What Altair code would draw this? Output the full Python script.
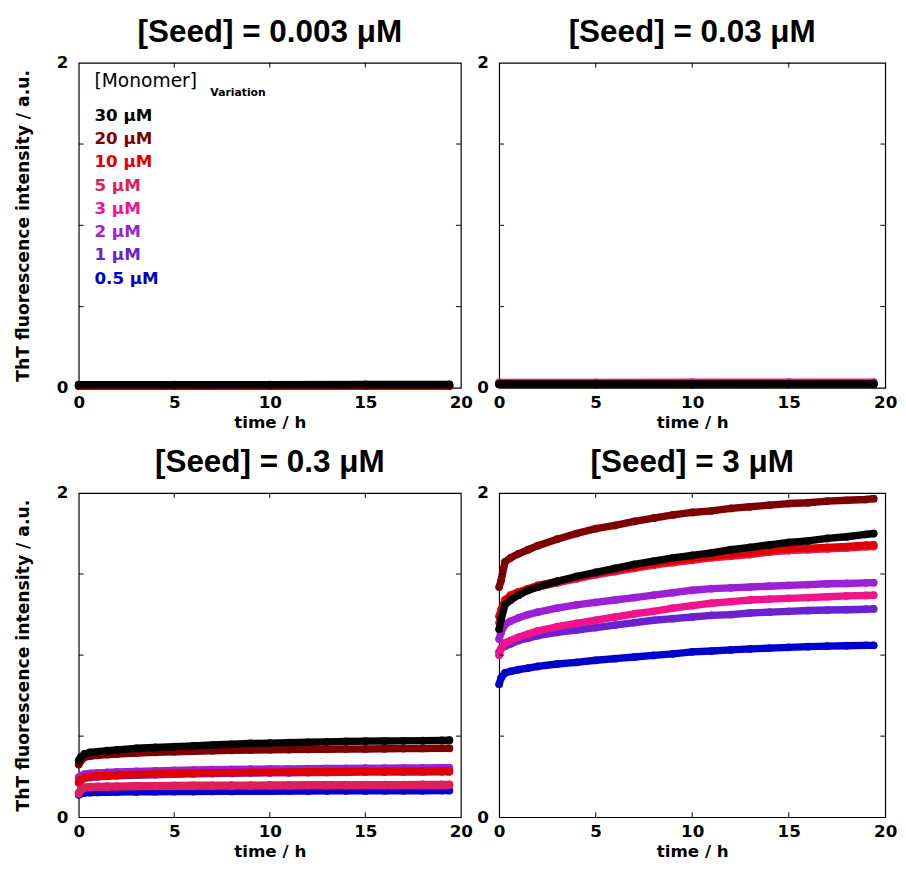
import altair as alt
import pandas as pd

# ---------------- data ----------------
MONOMERS = ["0.5", "1", "2", "3", "5", "10", "20", "30"]          # draw order
COLORS = {"30": "#000000", "20": "#7d0000", "10": "#e00000", "5": "#de1f5a",
          "3": "#f0148c", "2": "#9d1fd6", "1": "#6a22d0", "0.5": "#0000cc"}
LEGEND_ORDER = ["30", "20", "10", "5", "3", "2", "1", "0.5"]

T = [0, 0.1, 0.3, 0.6, 1, 1.5, 2, 3, 4, 5, 6, 7, 8, 9, 10, 11, 12, 13, 14,
     15, 16, 17, 18, 19, 19.4]
T_FLAT = [0, 5, 10, 15, 19.4]

# [Seed] = 0.003 uM  (all flat near zero)
S0003 = {
    "0.5": [0.015, 0.015, 0.015, 0.015, 0.015],
    "1":   [0.015, 0.015, 0.016, 0.016, 0.016],
    "2":   [0.016, 0.016, 0.016, 0.016, 0.016],
    "3":   [0.016, 0.016, 0.016, 0.017, 0.017],
    "5":   [0.015, 0.015, 0.016, 0.016, 0.016],
    "10":  [0.013, 0.013, 0.013, 0.014, 0.014],
    "20":  [0.012, 0.012, 0.012, 0.012, 0.012],
    "30":  [0.020, 0.020, 0.020, 0.021, 0.021],
}
# [Seed] = 0.03 uM  (all flat near zero)
S003 = {
    "0.5": [0.022, 0.022, 0.022, 0.022, 0.022],
    "1":   [0.024, 0.024, 0.024, 0.024, 0.024],
    "2":   [0.026, 0.026, 0.026, 0.026, 0.026],
    "3":   [0.034, 0.034, 0.035, 0.035, 0.035],
    "5":   [0.028, 0.028, 0.028, 0.028, 0.028],
    "10":  [0.024, 0.024, 0.024, 0.024, 0.024],
    "20":  [0.022, 0.022, 0.022, 0.022, 0.022],
    "30":  [0.024, 0.024, 0.024, 0.025, 0.025],
}
# [Seed] = 0.3 uM
S03 = {
    "0.5": [0.138, 0.145, 0.150, 0.152, 0.153, 0.154, 0.155, 0.156, 0.157, 0.158, 0.158, 0.159, 0.159,
            0.160, 0.160, 0.161, 0.161, 0.162, 0.162, 0.162, 0.163, 0.163, 0.163, 0.164, 0.164],
    "1":   [0.212, 0.226, 0.240, 0.245, 0.249, 0.252, 0.255, 0.259, 0.262, 0.265, 0.267, 0.269, 0.270,
            0.272, 0.273, 0.274, 0.275, 0.276, 0.277, 0.278, 0.278, 0.279, 0.279, 0.280, 0.280],
    "2":   [0.245, 0.255, 0.265, 0.270, 0.273, 0.276, 0.279, 0.283, 0.286, 0.289, 0.291, 0.293, 0.295,
            0.296, 0.297, 0.298, 0.299, 0.300, 0.301, 0.302, 0.303, 0.304, 0.304, 0.305, 0.305],
    "3":   [0.145, 0.165, 0.180, 0.183, 0.185, 0.186, 0.187, 0.189, 0.190, 0.191, 0.192, 0.192, 0.193,
            0.193, 0.194, 0.194, 0.195, 0.195, 0.195, 0.196, 0.196, 0.196, 0.197, 0.197, 0.197],
    "5":   [0.150, 0.170, 0.185, 0.188, 0.190, 0.191, 0.192, 0.194, 0.195, 0.196, 0.197, 0.197, 0.198,
            0.198, 0.199, 0.199, 0.200, 0.200, 0.200, 0.201, 0.201, 0.201, 0.202, 0.202, 0.202],
    "10":  [0.218, 0.232, 0.245, 0.250, 0.254, 0.257, 0.260, 0.264, 0.267, 0.270, 0.272, 0.274, 0.275,
            0.277, 0.278, 0.279, 0.280, 0.281, 0.282, 0.283, 0.283, 0.284, 0.284, 0.285, 0.285],
    "20":  [0.325, 0.345, 0.370, 0.377, 0.382, 0.386, 0.390, 0.395, 0.400, 0.404, 0.407, 0.410, 0.412,
            0.414, 0.416, 0.417, 0.418, 0.419, 0.420, 0.421, 0.422, 0.423, 0.424, 0.425, 0.425],
    "30":  [0.350, 0.370, 0.390, 0.400, 0.405, 0.410, 0.415, 0.425, 0.430, 0.435, 0.440, 0.445, 0.450,
            0.455, 0.457, 0.460, 0.462, 0.465, 0.467, 0.469, 0.470, 0.471, 0.472, 0.474, 0.475],
}
# [Seed] = 3 uM
S3 = {
    "0.5": [0.82, 0.86, 0.89, 0.90, 0.91, 0.92, 0.93, 0.945, 0.955, 0.968, 0.978, 0.988, 0.998,
            1.008, 1.02, 1.025, 1.032, 1.038, 1.043, 1.048, 1.052, 1.055, 1.058, 1.06, 1.06],
    "1":   [1.02, 1.04, 1.055, 1.07, 1.09, 1.105, 1.12, 1.14, 1.155, 1.17, 1.185, 1.20, 1.215,
            1.225, 1.235, 1.245, 1.25, 1.26, 1.265, 1.27, 1.275, 1.278, 1.28, 1.283, 1.285],
    "2":   [1.10, 1.14, 1.19, 1.21, 1.23, 1.25, 1.265, 1.29, 1.31, 1.325, 1.34, 1.355, 1.37,
            1.385, 1.40, 1.41, 1.415, 1.42, 1.425, 1.43, 1.435, 1.44, 1.442, 1.446, 1.447],
    "3":   [1.00, 1.04, 1.075, 1.09, 1.11, 1.13, 1.15, 1.175, 1.195, 1.215, 1.235, 1.255, 1.27,
            1.29, 1.305, 1.32, 1.33, 1.34, 1.345, 1.35, 1.355, 1.36, 1.365, 1.368, 1.37],
    "5":   [1.20, 1.26, 1.33, 1.36, 1.38, 1.40, 1.42, 1.445, 1.47, 1.495, 1.515, 1.535, 1.555,
            1.57, 1.585, 1.60, 1.61, 1.62, 1.635, 1.645, 1.65, 1.655, 1.66, 1.668, 1.67],
    "10":  [1.24, 1.28, 1.34, 1.37, 1.39, 1.41, 1.43, 1.455, 1.48, 1.505, 1.525, 1.545, 1.565,
            1.58, 1.595, 1.61, 1.62, 1.63, 1.645, 1.655, 1.66, 1.665, 1.67, 1.678, 1.68],
    "20":  [1.42, 1.46, 1.575, 1.60, 1.625, 1.65, 1.675, 1.715, 1.75, 1.78, 1.80, 1.825, 1.845,
            1.865, 1.88, 1.89, 1.905, 1.915, 1.925, 1.935, 1.94, 1.95, 1.955, 1.96, 1.965],
    "30":  [1.16, 1.22, 1.31, 1.34, 1.37, 1.40, 1.42, 1.455, 1.485, 1.51, 1.535, 1.56, 1.58,
            1.60, 1.615, 1.63, 1.65, 1.665, 1.68, 1.695, 1.705, 1.72, 1.73, 1.745, 1.75],
}

X_TICKS = [0, 5, 10, 15, 20]
X_INNER_TICKS = [5, 10, 15]
Y_LABEL_TICKS = [0, 1, 2]
Y_INNER_TICKS = [0.5, 1, 1.5]

TITLES = ["[Seed] = 0.003 μM", "[Seed] = 0.03 μM", "[Seed] = 0.3 μM", "[Seed] = 3 μM"]
LEGEND_HEAD = "[Monomer]"
LEGEND_SUB = "Variation"

# ---------------- styling ----------------
FONT = "DejaVu Sans"
TITLE_FONT = "Liberation Sans"
WL, WR = 389, 393
HT, HB = 331, 330
TICK = 5


def panel(series, times, title, width, height, left, legend=False):
    x = alt.X("t:Q", scale=alt.Scale(domain=[0, 20], nice=False, zero=False),
              axis=alt.Axis(values=X_TICKS, title="time / h", ticks=False, domain=False,
                            grid=False, labelFont=FONT, labelFontSize=17, labelFontWeight="bold",
                            labelColor="black", labelPadding=7, titleFont=FONT,
                            titleFontSize=17, titleFontWeight="bold", titleColor="black",
                            titlePadding=4, labelFlush=False, labelOverlap=False, format="d"))
    yaxis = dict(values=Y_LABEL_TICKS, ticks=False, domain=False, grid=False,
                 labelFont=FONT, labelFontSize=17, labelFontWeight="bold", format="d",
                 labelColor="black", labelPadding=11, labelFlush=False, labelOverlap=False)
    if left:
        yaxis.update(title="ThT fluorescence intensity / a.u.", titleFont=FONT,
                     titleFontSize=17.5, titleFontWeight="bold", titleColor="black",
                     titlePadding=24)
    else:
        yaxis.update(title=None)
    y = alt.Y("v:Q", scale=alt.Scale(domain=[0, 2], nice=False), axis=alt.Axis(**yaxis))

    layers = []
    for m in MONOMERS:
        df = pd.DataFrame({"t": times, "v": series[m]})
        base = alt.Chart(df)
        layers.append(base.mark_line(color=COLORS[m], strokeWidth=7.5, strokeCap="round",
                                     strokeJoin="round").encode(x=x, y=y))
        layers.append(base.mark_circle(color=COLORS[m], size=62, opacity=1).encode(x=x, y=y))

    xt = alt.Chart(pd.DataFrame({"t": X_INNER_TICKS}))
    layers.append(xt.mark_rule(color="black", strokeWidth=1).encode(
        x=x, y=alt.value(0), y2=alt.value(TICK)))
    layers.append(xt.mark_rule(color="black", strokeWidth=1).encode(
        x=x, y=alt.value(height), y2=alt.value(height - TICK)))
    yt = alt.Chart(pd.DataFrame({"v": Y_INNER_TICKS}))
    layers.append(yt.mark_rule(color="black", strokeWidth=1).encode(
        y=y, x=alt.value(0), x2=alt.value(TICK)))
    layers.append(yt.mark_rule(color="black", strokeWidth=1).encode(
        y=y, x=alt.value(width), x2=alt.value(width - TICK)))

    if legend:
        dummy = pd.DataFrame({"a": [0]})
        layers.append(alt.Chart(dummy).mark_text(
            align="left", baseline="middle", font=FONT, fontSize=19, color="black").encode(
            x=alt.value(16), y=alt.value(19), text=alt.value(LEGEND_HEAD)))
        layers.append(alt.Chart(dummy).mark_text(
            align="left", baseline="middle", font=FONT, fontSize=11, fontWeight="bold",
            color="black").encode(x=alt.value(134), y=alt.value(31), text=alt.value(LEGEND_SUB)))
        for i, m in enumerate(LEGEND_ORDER):
            layers.append(alt.Chart(dummy).mark_text(
                align="left", baseline="middle", font=FONT, fontSize=17, fontWeight="bold",
                color=COLORS[m]).encode(x=alt.value(16), y=alt.value(54 + 23.7 * i),
                                        text=alt.value(f"{m} μM")))

    return alt.layer(*layers).properties(
        width=width, height=height,
        title=alt.TitleParams(title, font=TITLE_FONT, fontSize=32, fontWeight="bold",
                              color="black", anchor="middle", offset=5))


p1 = panel(S0003, T_FLAT, TITLES[0], WL, HT, True, legend=True)
p2 = panel(S003, T_FLAT, TITLES[1], WR, HT, False)
p3 = panel(S03, T, TITLES[2], WL, HB, True)
p4 = panel(S3, T, TITLES[3], WR, HB, False)

chart = alt.vconcat(
    alt.hconcat(p1, p2, spacing=2),
    alt.hconcat(p3, p4, spacing=2),
    spacing=15,
).properties(
    padding={"left": 6, "top": 0, "right": 0, "bottom": 0}, background="white"
).configure_view(stroke="black", strokeWidth=1.2)

chart.save("out.html", embed_options={"renderer": "svg", "actions": False})
